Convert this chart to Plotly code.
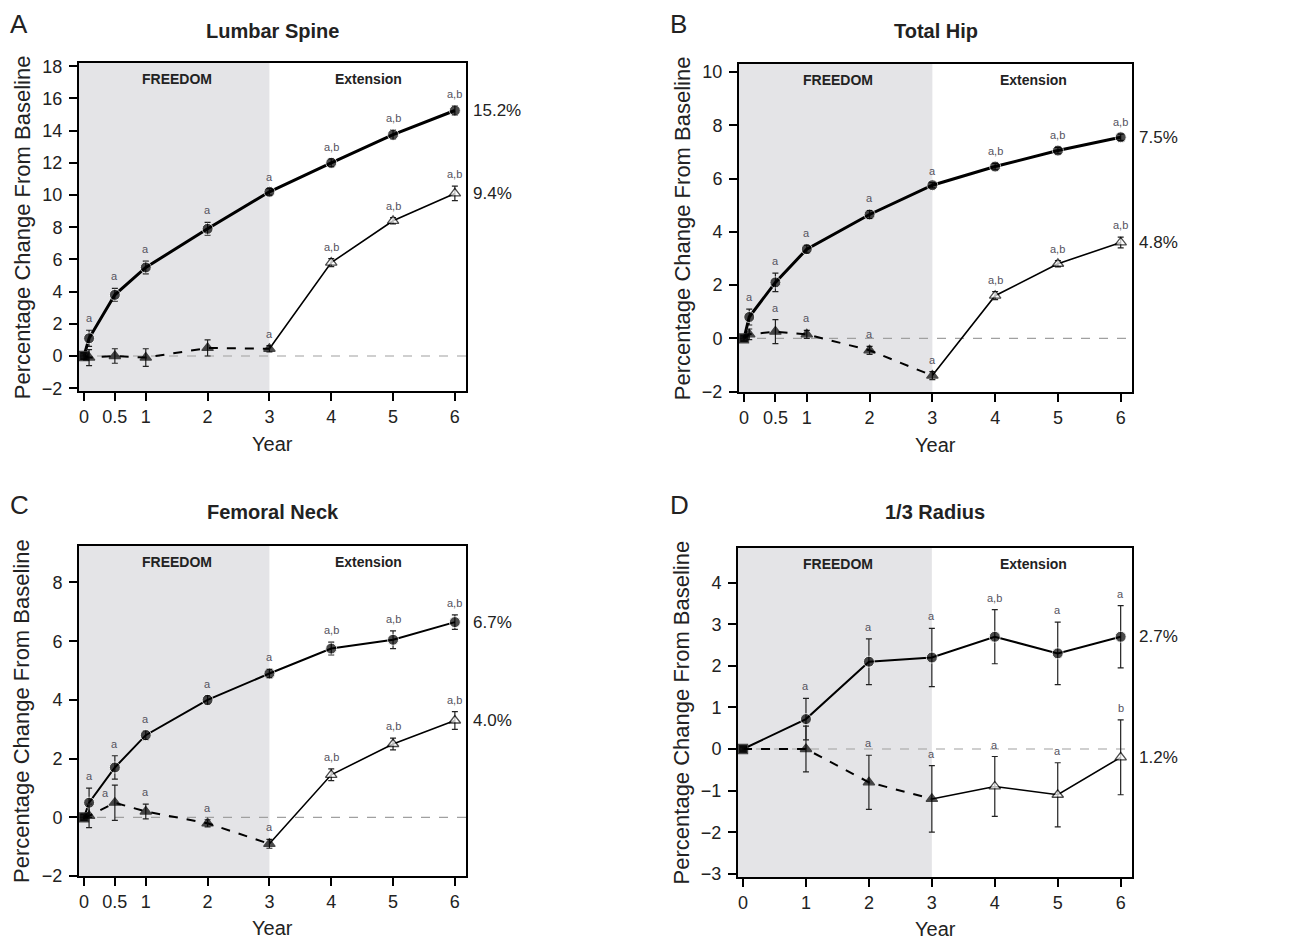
import plotly.graph_objects as go

# ---------------- data ----------------
YEARS_BMD = [0, 0.083, 0.5, 1, 2, 3, 4, 5, 6]
YEARS_RAD = [0, 1, 2, 3, 4, 5, 6]
XTICKS_BMD = [0, 0.5, 1, 2, 3, 4, 5, 6]
XTICKTEXT_BMD = ["0", "0.5", "1", "2", "3", "4", "5", "6"]
XTICKS_RAD = [0, 1, 2, 3, 4, 5, 6]
XTICKTEXT_RAD = ["0", "1", "2", "3", "4", "5", "6"]

PANEL_LETTERS = ["A", "B", "C", "D"]
PANEL_TITLES = ["Lumbar Spine", "Total Hip", "Femoral Neck", "1/3 Radius"]
PHASE_LABELS = ["FREEDOM", "Extension"]

# Lumbar spine
LS_DENOS = [0, 1.1, 3.8, 5.5, 7.9, 10.2, 12.0, 13.75, 15.25]
LS_DENOS_ERR = [0.2, 0.5, 0.4, 0.4, 0.4, 0.2, 0.25, 0.3, 0.3]
LS_CROSS = [0, -0.1, 0.0, -0.1, 0.5, 0.45, 5.8, 8.4, 10.1]
LS_CROSS_ERR = [0.2, 0.5, 0.45, 0.55, 0.5, 0.2, 0.25, 0.2, 0.45]
LS_DENOS_SIG = ["", "a", "a", "a", "a", "a", "a,b", "a,b", "a,b"]
LS_CROSS_SIG = ["", "", "", "", "", "a", "a,b", "a,b", "a,b"]
LS_TOTALS = ["15.2%", "9.4%"]

# Total hip
TH_DENOS = [0, 0.8, 2.1, 3.35, 4.65, 5.75, 6.45, 7.05, 7.55]
TH_DENOS_ERR = [0.1, 0.3, 0.35, 0.15, 0.15, 0.1, 0.12, 0.12, 0.12]
TH_CROSS = [0, 0.15, 0.25, 0.15, -0.45, -1.4, 1.6, 2.8, 3.6]
TH_CROSS_ERR = [0.1, 0.2, 0.45, 0.15, 0.15, 0.15, 0.15, 0.12, 0.2]
TH_DENOS_SIG = ["", "a", "a", "a", "a", "a", "a,b", "a,b", "a,b"]
TH_CROSS_SIG = ["", "", "a", "a", "a", "a", "a,b", "a,b", "a,b"]
TH_TOTALS = ["7.5%", "4.8%"]

# Femoral neck
FN_DENOS = [0, 0.5, 1.7, 2.8, 4.0, 4.9, 5.75, 6.05, 6.65]
FN_DENOS_ERR = [0.1, 0.5, 0.4, 0.15, 0.15, 0.15, 0.22, 0.3, 0.25]
FN_CROSS = [0, 0.05, 0.5, 0.2, -0.2, -0.9, 1.45, 2.5, 3.3]
FN_CROSS_ERR = [0.1, 0.4, 0.6, 0.25, 0.12, 0.15, 0.2, 0.2, 0.3]
FN_DENOS_SIG = ["", "a", "a", "a", "a", "a", "a,b", "a,b", "a,b"]
FN_CROSS_SIG = ["", "", "a", "a", "a", "a", "a,b", "a,b", "a,b"]
FN_TOTALS = ["6.7%", "4.0%"]

# 1/3 radius
RA_DENOS = [0, 0.72, 2.1, 2.2, 2.7, 2.3, 2.7]
RA_DENOS_ERR = [0.05, 0.5, 0.55, 0.7, 0.65, 0.75, 0.75]
RA_CROSS = [0, 0.0, -0.8, -1.2, -0.9, -1.1, -0.2]
RA_CROSS_ERR = [0.05, 0.55, 0.65, 0.8, 0.72, 0.77, 0.9]
RA_DENOS_SIG = ["", "a", "a", "a", "a,b", "a", "a"]
RA_CROSS_SIG = ["", "", "a", "a", "a", "a", "b"]
RA_TOTALS = ["2.7%", "1.2%"]

FREEDOM_END = 3

# ---------------- layout geometry (pixels) ----------------
W, H = 1305, 952
FONT = "Liberation Sans, Arial, sans-serif"
SHADE = "#e4e4e7"
SIG_COLOR = "#55525e"

panels = [
    dict(x=YEARS_BMD, d=LS_DENOS, de=LS_DENOS_ERR, c=LS_CROSS, ce=LS_CROSS_ERR,
         ds=LS_DENOS_SIG, cs=LS_CROSS_SIG, tot=LS_TOTALS,
         xt=XTICKS_BMD, xtt=XTICKTEXT_BMD, yt=list(range(-2, 19, 2)),
         yr=[-2.2, 18.2], px=(79, 466), py=(58, 392), lw=3.0, ttl_y=25, let_x=8),
    dict(x=YEARS_BMD, d=TH_DENOS, de=TH_DENOS_ERR, c=TH_CROSS, ce=TH_CROSS_ERR,
         ds=TH_DENOS_SIG, cs=TH_CROSS_SIG, tot=TH_TOTALS,
         xt=XTICKS_BMD, xtt=XTICKTEXT_BMD, yt=list(range(-2, 11, 2)),
         yr=[-2.03, 10.3], px=(739, 1132), py=(59, 393), lw=3.0, ttl_y=25, let_x=668),
    dict(x=YEARS_BMD, d=FN_DENOS, de=FN_DENOS_ERR, c=FN_CROSS, ce=FN_CROSS_ERR,
         ds=FN_DENOS_SIG, cs=FN_CROSS_SIG, tot=FN_TOTALS,
         xt=XTICKS_BMD, xtt=XTICKTEXT_BMD, yt=list(range(-2, 9, 2)),
         yr=[-2.0, 9.25], px=(79, 466), py=(549, 885), lw=2.0, ttl_y=515, let_x=8),
    dict(x=YEARS_RAD, d=RA_DENOS, de=RA_DENOS_ERR, c=RA_CROSS, ce=RA_CROSS_ERR,
         ds=RA_DENOS_SIG, cs=RA_CROSS_SIG, tot=RA_TOTALS,
         xt=XTICKS_RAD, xtt=XTICKTEXT_RAD, yt=list(range(-3, 5, 1)),
         yr=[-3.08, 4.84], px=(738, 1132), py=(551, 886), lw=2.0, ttl_y=515, let_x=668),
]

fig = go.Figure()
shapes = []
annotations = []
XR = [-0.08, 6.18]

for i, p in enumerate(panels):
    n = i + 1
    xa = "x" if n == 1 else f"x{n}"
    ya = "y" if n == 1 else f"y{n}"
    xkey = "xaxis" if n == 1 else f"xaxis{n}"
    ykey = "yaxis" if n == 1 else f"yaxis{n}"
    x0p, x1p = p["px"]
    y0p, y1p = p["py"]
    xdom = [x0p / W, x1p / W]
    ydom = [1 - y1p / H, 1 - y0p / H]

    fig.layout[xkey] = dict(
        domain=xdom, range=XR, anchor=ya, tickvals=p["xt"], ticktext=p["xtt"],
        ticks="outside", ticklen=8, tickwidth=2, tickcolor="black",
        showline=True, mirror=True, linewidth=2, linecolor="black",
        showgrid=False, zeroline=False, tickfont=dict(size=18, color="#222"),
        ticklabelstandoff=0,
    )
    fig.layout[ykey] = dict(
        domain=ydom, range=p["yr"], anchor=xa, tickvals=p["yt"],
        ticks="outside", ticklen=8, tickwidth=2, tickcolor="black",
        showline=True, mirror=True, linewidth=2, linecolor="black",
        showgrid=False, zeroline=False, tickfont=dict(size=18, color="#222"),
        ticklabelstandoff=3,
    )

    # shaded FREEDOM region
    shapes.append(dict(type="rect", xref=xa, yref=f"{ya} domain", x0=XR[0], x1=FREEDOM_END,
                       y0=0, y1=1, fillcolor=SHADE, line=dict(width=0), layer="below"))
    # zero reference line
    shapes.append(dict(type="line", xref=f"{xa} domain", yref=ya, x0=0, x1=1, y0=0, y1=0,
                       line=dict(color="#a0a0a0", width=1.2, dash="dash"), layer="below"))

    xs = p["x"]
    k3 = xs.index(FREEDOM_END)

    # denosumab long-term (solid circles)
    dsym = ["square" if xv == 0 else "circle" for xv in xs]
    fig.add_trace(go.Scatter(
        x=xs, y=p["d"], mode="lines+markers", xaxis=xa, yaxis=ya,
        line=dict(color="black", width=p["lw"]),
        marker=dict(symbol=dsym, size=[9 if xv == 0 else 11 for xv in xs], color="black"),
        error_y=dict(type="data", array=p["de"], color="#222", thickness=1.2, width=3),
        showlegend=False, hoverinfo="skip",
    ))
    # crossover: dashed during FREEDOM (placebo), solid after
    fig.add_trace(go.Scatter(
        x=xs[:k3 + 1], y=p["c"][:k3 + 1], mode="lines", xaxis=xa, yaxis=ya,
        line=dict(color="black", width=2, dash="dash"), showlegend=False, hoverinfo="skip",
    ))
    fig.add_trace(go.Scatter(
        x=xs[k3:], y=p["c"][k3:], mode="lines", xaxis=xa, yaxis=ya,
        line=dict(color="black", width=1.6), showlegend=False, hoverinfo="skip",
    ))
    csym = ["square" if xv == 0 else "triangle-up" for xv in xs]
    cfill = ["black" if xv <= FREEDOM_END else "white" for xv in xs]
    fig.add_trace(go.Scatter(
        x=xs, y=p["c"], mode="markers", xaxis=xa, yaxis=ya,
        marker=dict(symbol=csym, size=[9 if xv == 0 else 10 for xv in xs], color=cfill,
                    line=dict(color="black", width=1.3)),
        error_y=dict(type="data", array=p["ce"], color="#222", thickness=1.2, width=3),
        showlegend=False, hoverinfo="skip",
    ))

    # significance letters
    for xv, yv, ev, s in zip(xs, p["d"], p["de"], p["ds"]):
        if s:
            annotations.append(dict(x=xv, y=yv + ev, xref=xa, yref=ya, text=s, showarrow=False,
                                    yanchor="bottom", yshift=4,
                                    font=dict(size=11, color=SIG_COLOR, family=FONT)))
    for xv, yv, ev, s in zip(xs, p["c"], p["ce"], p["cs"]):
        if s:
            if n == 3 and xv == 0.5:
                annotations.append(dict(x=xv, y=yv, xref=xa, yref=ya, text=s, showarrow=False,
                                        yanchor="bottom", yshift=2, xshift=-9,
                                        font=dict(size=11, color=SIG_COLOR, family=FONT)))
            else:
                annotations.append(dict(x=xv, y=yv + ev, xref=xa, yref=ya, text=s, showarrow=False,
                                        yanchor="bottom", yshift=4,
                                        font=dict(size=11, color=SIG_COLOR, family=FONT)))

    # total change labels at the right
    for lab, yv in zip(p["tot"], [p["d"][-1], p["c"][-1]]):
        annotations.append(dict(x=1.012, y=yv, xref=f"{xa} domain", yref=ya, text=lab,
                                showarrow=False, xanchor="left", yanchor="middle",
                                font=dict(size=17, color="#222", family=FONT)))

    # phase labels
    annotations.append(dict(x=0.253, y=0.952, xref=f"{xa} domain", yref=f"{ya} domain",
                            text=f"<b>{PHASE_LABELS[0]}</b>", showarrow=False,
                            xanchor="center", yanchor="middle",
                            font=dict(size=14, color="#222", family=FONT)))
    annotations.append(dict(x=0.749, y=0.952, xref=f"{xa} domain", yref=f"{ya} domain",
                            text=f"<b>{PHASE_LABELS[1]}</b>", showarrow=False,
                            xanchor="center", yanchor="middle",
                            font=dict(size=14, color="#222", family=FONT)))

    # panel title
    annotations.append(dict(x=(xdom[0] + xdom[1]) / 2, y=1 - p["ttl_y"] / H, xref="paper", yref="paper",
                            text=f"<b>{PANEL_TITLES[i]}</b>", showarrow=False,
                            xanchor="center", yanchor="middle",
                            font=dict(size=20, color="#222", family=FONT)))
    # panel letter
    annotations.append(dict(x=p["let_x"] / W, y=1 - (p["ttl_y"] - 7) / H, xref="paper", yref="paper",
                            text=PANEL_LETTERS[i], showarrow=False, xanchor="left", yanchor="middle",
                            font=dict(size=26, color="#222", family=FONT)))
    # y-axis title
    annotations.append(dict(x=(x0p - 57) / W, y=(ydom[0] + ydom[1]) / 2, xref="paper", yref="paper",
                            text="Percentage Change From Baseline", showarrow=False, textangle=-90,
                            xanchor="center", yanchor="middle",
                            font=dict(size=22, color="#222", family=FONT)))
    # x-axis title
    annotations.append(dict(x=(xdom[0] + xdom[1]) / 2, y=1 - (y1p + 53) / H, xref="paper", yref="paper",
                            text="Year", showarrow=False, xanchor="center", yanchor="middle",
                            font=dict(size=20, color="#222", family=FONT)))

fig.update_layout(
    width=W, height=H, margin=dict(l=0, r=0, t=0, b=0),
    paper_bgcolor="white", plot_bgcolor="white",
    font=dict(family=FONT, color="#222"),
    shapes=shapes, annotations=annotations, showlegend=False,
)

fig.write_html("out.html")
